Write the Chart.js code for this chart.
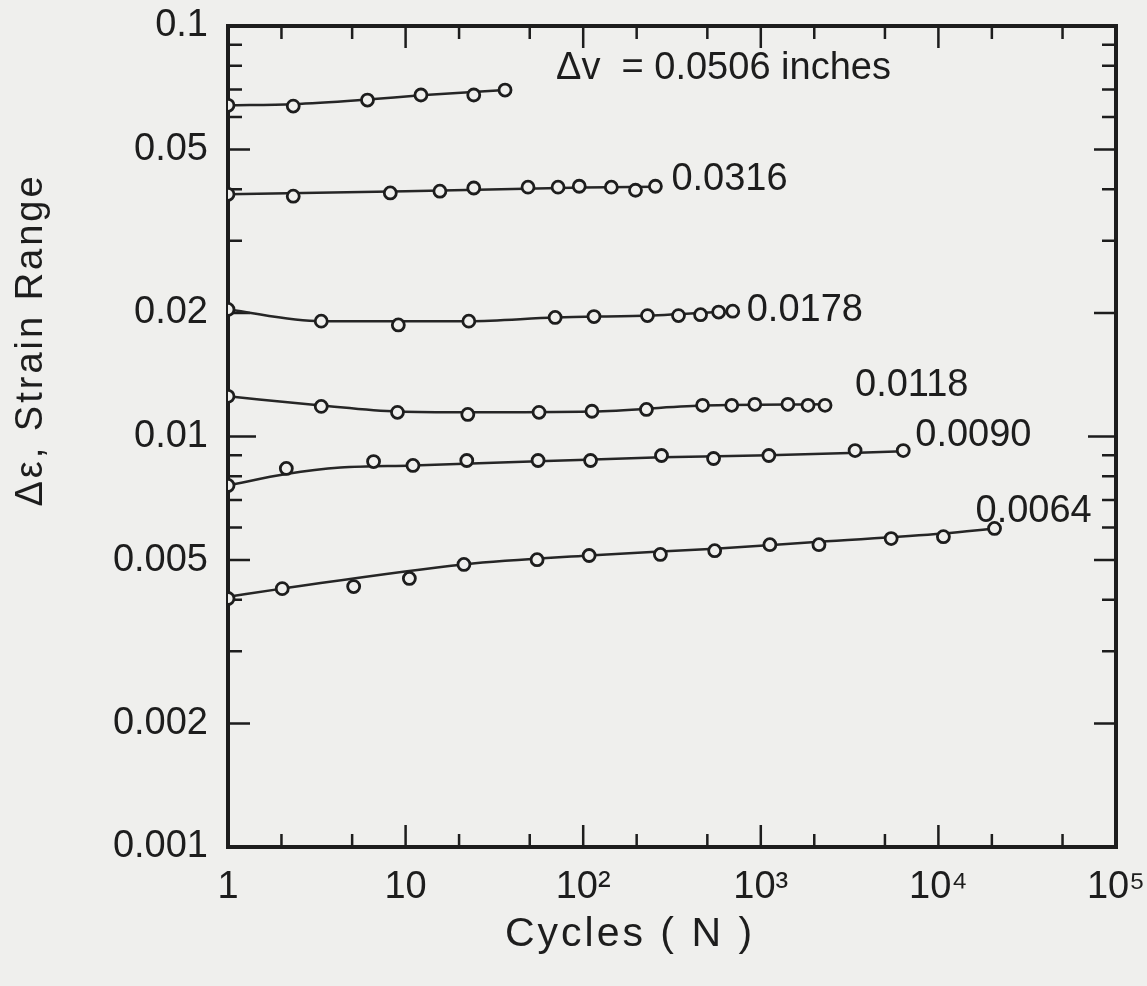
<!DOCTYPE html>
<html>
<head>
<meta charset="utf-8">
<script src="https://cdn.jsdelivr.net/npm/chart.js@4.4.1/dist/chart.umd.min.js"></script>
<style>
  html, body { margin: 0; padding: 0; background: #efefed; }
</style>
</head>
<body>
<canvas id="chart" width="1147" height="986"></canvas>
<script>
const FONT = "'Liberation Sans', Arial, sans-serif";
const INK = '#1d1d1d';
const BG = '#efefed';

// axis ticks
const xTickValues = [1, 10, 100, 1000, 10000, 100000];
const xTickLabels = ['1', '10', '10²', '10³', '10⁴', '10⁵'];
const yTickValues = [0.001, 0.002, 0.005, 0.01, 0.02, 0.05, 0.1];
const yTickLabels = ['0.001', '0.002', '0.005', '0.01', '0.02', '0.05', '0.1'];

// displacement range of each test (inches)
const dvLabels = ['Δv  = 0.0506 inches', '0.0316', '0.0178', '0.0118', '0.0090', '0.0064'];

// measured points: cycles N and strain range
const n0506 = [1, 2.33, 6.1, 12.2, 24.2, 36.3];
const e0506 = [0.0641, 0.0638, 0.0660, 0.0679, 0.0679, 0.0698];
const n0316 = [1, 2.33, 8.2, 15.6, 24.2, 48.9, 72.2, 95, 144, 197, 255];
const e0316 = [0.0389, 0.0385, 0.0392, 0.0396, 0.0403, 0.0405, 0.0405, 0.0407, 0.0405, 0.0398, 0.0407];
const n0178 = [1, 3.35, 9.1, 22.7, 69.5, 115, 230, 344, 458, 579, 695];
const e0178 = [0.0204, 0.0191, 0.0187, 0.0191, 0.0195, 0.0196, 0.0197, 0.0197, 0.0198, 0.0201, 0.0202];
const n0118 = [1, 3.35, 9.0, 22.4, 56.4, 112, 227, 470, 686, 925, 1421, 1845, 2300];
const e0118 = [0.01253, 0.01184, 0.01145, 0.01132, 0.01145, 0.01152, 0.01164, 0.01191, 0.01191, 0.01198, 0.01198, 0.01191, 0.01191];
const n0090 = [1, 2.13, 6.6, 11, 22.1, 55.7, 110, 276, 542, 1110, 3395, 6340];
const e0090 = [0.0076, 0.00836, 0.00869, 0.0085, 0.00874, 0.00874, 0.00874, 0.00899, 0.00884, 0.00899, 0.00924, 0.00924];
const n0064 = [1, 2.02, 5.1, 10.5, 21.3, 55, 108, 272, 550, 1125, 2125, 5420, 10670, 20700];
const e0064 = [0.00403, 0.00426, 0.00431, 0.00451, 0.00488, 0.00501, 0.00513, 0.00516, 0.00527, 0.00545, 0.00545, 0.00564, 0.0057, 0.00597];

// faired curves drawn through the points
const fitN0506 = [1, 2.33, 6.1, 12.2, 36.3];
const fitE0506 = [0.0641, 0.0645, 0.0662, 0.0678, 0.0698];
const fitN0316 = [1, 10, 100, 255];
const fitE0316 = [0.0389, 0.0396, 0.0404, 0.0406];
const fitN0178 = [1, 3.35, 22.7, 69.5, 230, 695];
const fitE0178 = [0.0204, 0.0191, 0.0191, 0.0195, 0.0197, 0.0202];
const fitN0118 = [1, 3.35, 9, 22.4, 112, 470, 2300];
const fitE0118 = [0.01253, 0.0119, 0.0115, 0.01145, 0.0115, 0.0119, 0.01198];
const fitN0090 = [1, 2.13, 4.3, 11, 55.7, 276, 1110, 6340];
const fitE0090 = [0.0076, 0.0081, 0.0084, 0.0085, 0.0087, 0.0089, 0.009, 0.0092];
const fitN0064 = [1, 2.02, 21.3, 108, 550, 2125, 10670, 20700];
const fitE0064 = [0.00407, 0.00426, 0.00488, 0.00513, 0.00533, 0.00554, 0.0058, 0.00597];

const series = [
    [n0506, e0506, fitN0506, fitE0506],
    [n0316, e0316, fitN0316, fitE0316],
    [n0178, e0178, fitN0178, fitE0178],
    [n0118, e0118, fitN0118, fitE0118],
    [n0090, e0090, fitN0090, fitE0090],
    [n0064, e0064, fitN0064, fitE0064],
];

function toPoints(xs, ys) {
    return xs.map((x, i) => ({x: x, y: ys[i]}));
}

let datasets = [];
series.forEach(function (s) {
    datasets.push({
        data: toPoints(s[2], s[3]),
        showLine: true,
        pointRadius: 0,
        borderColor: '#262626',
        borderWidth: 2.5,
        cubicInterpolationMode: 'monotone',
        order: 2
    });
    datasets.push({
        data: toPoints(s[0], s[1]),
        showLine: false,
        pointRadius: 6,
        pointBorderWidth: 2.8,
        pointBorderColor: INK,
        pointBackgroundColor: BG,
        order: 1
    });
});

// label offset (px) from the last point of each series
const labelOffsets = [[51, -22], [16, -7], [14, -1], [30, -20], [12, -15], [-19, -17]];

const framePlugin = {
    id: 'frame',
    beforeDatasetsDraw(chart) {
        const ctx = chart.ctx;
        const a = chart.chartArea;
        const x = chart.scales.x;
        const y = chart.scales.y;
        ctx.save();
        ctx.strokeStyle = INK;
        ctx.lineWidth = 2.5;
        ctx.beginPath();
        for (let d = 1; d < 100000; d *= 10) {
            [1, 2, 5].forEach(function (m) {
                const v = d * m;
                if (v === 1) return;
                const len = m === 1 ? 22 : 13;
                const px = x.getPixelForValue(v);
                ctx.moveTo(px, a.bottom); ctx.lineTo(px, a.bottom - len);
                ctx.moveTo(px, a.top); ctx.lineTo(px, a.top + len);
            });
        }
        for (let d = 0.001; d < 0.099; d *= 10) {
            for (let m = 2; m <= 9; m++) {
                const v = d * m;
                const len = (m === 2 || m === 5) ? 22 : 14;
                const py = y.getPixelForValue(v);
                ctx.moveTo(a.left, py); ctx.lineTo(a.left + len, py);
                ctx.moveTo(a.right, py); ctx.lineTo(a.right - len, py);
            }
        }
        const py = y.getPixelForValue(0.01);
        ctx.moveTo(a.left, py); ctx.lineTo(a.left + 28, py);
        ctx.moveTo(a.right, py); ctx.lineTo(a.right - 28, py);
        ctx.stroke();
        ctx.lineWidth = 4;
        ctx.strokeRect(a.left, a.top, a.right - a.left, a.bottom - a.top);
        ctx.restore();
    },
    afterDraw(chart) {
        const ctx = chart.ctx;
        const a = chart.chartArea;
        const x = chart.scales.x;
        const y = chart.scales.y;
        ctx.save();
        ctx.fillStyle = INK;
        ctx.font = '38px ' + FONT;
        ctx.textAlign = 'left';
        ctx.textBaseline = 'middle';
        series.forEach(function (s, i) {
            const last = s[0].length - 1;
            const px = x.getPixelForValue(s[0][last]) + labelOffsets[i][0];
            const py = y.getPixelForValue(s[1][last]) + labelOffsets[i][1];
            ctx.fillText(dvLabels[i], px, py);
        });
        // axis titles
        ctx.textAlign = 'center';
        ctx.font = '41px ' + FONT;
        ctx.letterSpacing = '3px';
        ctx.fillText('Cycles ( N )', a.left + 402, a.bottom + 88);
        ctx.translate(42, a.top + 314);
        ctx.rotate(-Math.PI / 2);
        ctx.textBaseline = 'alphabetic';
        ctx.font = '38px ' + FONT;
        ctx.fillText('Δε, Strain Range', 0, 0);
        ctx.restore();
    }
};

let chart = new Chart(document.getElementById('chart').getContext('2d'), {
    type: 'scatter',
    data: { datasets: datasets },
    options: {
        responsive: false,
        animation: false,
        devicePixelRatio: 1,
        layout: { padding: { left: 0, right: 31, top: 26, bottom: 0 } },
        plugins: { legend: { display: false }, tooltip: { enabled: false } },
        scales: {
            x: {
                type: 'logarithmic',
                min: 1,
                max: 100000,
                grid: { display: false, drawTicks: false },
                border: { display: false },
                afterBuildTicks: function (scale) {
                    scale.ticks = xTickValues.map(v => ({value: v}));
                },
                afterFit: function (scale) {
                    scale.height = 139;
                    scale.paddingLeft = 0;
                    scale.paddingRight = 0;
                },
                ticks: {
                    color: INK,
                    padding: 18,
                    maxRotation: 0,
                    font: { family: FONT, size: 38 },
                    callback: function (value) {
                        return xTickLabels[xTickValues.indexOf(value)];
                    }
                }
            },
            y: {
                type: 'logarithmic',
                min: 0.001,
                max: 0.1,
                grid: { display: false, drawTicks: false },
                border: { display: false },
                afterBuildTicks: function (scale) {
                    scale.ticks = yTickValues.map(v => ({value: v}));
                },
                afterFit: function (scale) {
                    scale.width = 228;
                    scale.paddingTop = 0;
                    scale.paddingBottom = 0;
                },
                ticks: {
                    color: INK,
                    padding: 20,
                    font: { family: FONT, size: 38 },
                    callback: function (value) {
                        return yTickLabels[yTickValues.indexOf(value)];
                    }
                }
            }
        }
    },
    plugins: [framePlugin]
});
</script>
</body>
</html>
